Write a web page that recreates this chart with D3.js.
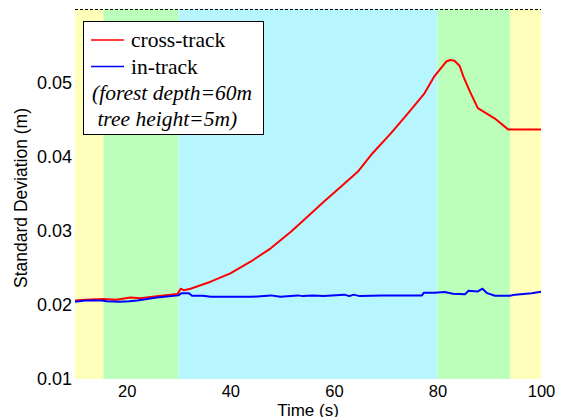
<!DOCTYPE html>
<html>
<head>
<meta charset="utf-8">
<script src="https://cdn.jsdelivr.net/npm/d3@7/dist/d3.min.js"></script>
<style>
  html, body { margin: 0; padding: 0; background: #fff; }
  svg { display: block; }
  .sans { font-family: "Liberation Sans", Arial, sans-serif; }
  .serif { font-family: "Liberation Serif", "Times New Roman", "DejaVu Serif", serif; }
</style>
</head>
<body>
<svg id="chart" width="569" height="417"></svg>
<script>
// ---- data ----
const xTicks = [20, 40, 60, 80, 100];
const yTicks = [0.01, 0.02, 0.03, 0.04, 0.05];
const yTickLabels = ["0.01", "0.02", "0.03", "0.04", "0.05"];

const bandStart = [10, 15.5, 30, 80, 94];
const bandEnd   = [15.5, 30, 80, 94, 100];
const bandKind  = ["open", "light", "dense", "light", "open"];

const crossT = [10, 12, 15.5, 18, 20.7, 22.6, 25.8, 29.8, 30.4, 31, 32.3, 36.2, 40, 43.9, 47.8, 51.7, 55, 58.1, 61.4, 64.6, 67.2, 71, 74.3, 77.5, 79.4, 81.7, 82.5, 83.3, 84.3, 85, 86.3, 87.8, 91.1, 93.7, 100];
const crossV = [0.0206, 0.0207, 0.0208, 0.0207, 0.0210, 0.0209, 0.0212, 0.0215, 0.0222, 0.0220, 0.0222, 0.02315, 0.02428, 0.02585, 0.02766, 0.0299, 0.0320, 0.0340, 0.0360, 0.0380, 0.0403, 0.0432, 0.0459, 0.0486, 0.0509, 0.0529, 0.0531, 0.0530, 0.0523, 0.0509, 0.0488, 0.0466, 0.0452, 0.0437, 0.0437];

const inT = [10, 12, 15.2, 16.1, 18.6, 20.5, 22, 25.8, 30, 30.5, 32, 32.6, 34.7, 36.2, 40, 44, 47.8, 49.7, 53, 54, 56, 58, 62, 63, 63.8, 65, 69.4, 77, 77.4, 79.4, 81.4, 83, 85.3, 86, 87.8, 88.7, 89.6, 91.1, 94, 95, 98.2, 100];
const inV = [0.02045, 0.0206, 0.0206, 0.0205, 0.02045, 0.0205, 0.0206, 0.0210, 0.0213, 0.02158, 0.0216, 0.02126, 0.02126, 0.0211, 0.0211, 0.0211, 0.0213, 0.0211, 0.0213, 0.0212, 0.0213, 0.0212, 0.0214, 0.0212, 0.0214, 0.0212, 0.0213, 0.0213, 0.02166, 0.02166, 0.02176, 0.02153, 0.02144, 0.02193, 0.02184, 0.0222, 0.0216, 0.02126, 0.02126, 0.0214, 0.0216, 0.0218];

const legendLabels = ["cross-track", "in-track"];
const noteLines = ["(forest depth=60m", " tree height=5m)"];

// ---- styles ----
const bandColor = { open: "#ffffbb", light: "#bbffbb", dense: "#b8f6ff" };
const seriesColor = ["#ff0000", "#0000ff"];

const svg = d3.select("#chart");
const L = 75, R = 541, T = 9, B = 379;
const x = d3.scaleLinear().domain([10, 100]).range([L, R]);
const y = d3.scaleLinear().domain([0.01, 0.06]).range([B, T]);

// bands
svg.append("g").selectAll("rect").data(bandStart).join("rect")
  .attr("x", (d, i) => x(d))
  .attr("width", (d, i) => x(bandEnd[i]) - x(d))
  .attr("y", T).attr("height", B - T)
  .attr("fill", (d, i) => bandColor[bandKind[i]]);

// top dashed border
svg.append("line")
  .attr("x1", L).attr("x2", R).attr("y1", T + 0.5).attr("y2", T + 0.5)
  .attr("stroke", "#000").attr("stroke-width", 1).attr("stroke-dasharray", "3,2");

// axes (labels only)
const xAxis = d3.axisBottom(x).tickValues(xTicks).tickSize(0).tickPadding(6).tickFormat(d3.format("d"));
const gx = svg.append("g").attr("transform", `translate(0,${B})`).call(xAxis);
gx.attr("font-family", null);
gx.select(".domain").remove();
gx.selectAll("text").attr("class", "sans").attr("font-size", 16.5).attr("fill", "#000");

const yAxis = d3.axisLeft(y).tickValues(yTicks).tickSize(0).tickPadding(3).tickFormat((d, i) => yTickLabels[i]);
const gy = svg.append("g").attr("transform", `translate(${L},0)`).call(yAxis);
gy.attr("font-family", null);
gy.select(".domain").remove();
gy.selectAll("text").attr("class", "sans").attr("font-size", 18).attr("fill", "#000");

// axis titles
svg.append("text").attr("class", "sans")
  .attr("x", (L + R) / 2).attr("y", 415.5)
  .attr("text-anchor", "middle")
  .attr("font-size", 17)
  .text("Time (s)");
svg.append("text").attr("class", "sans")
  .attr("transform", `translate(27,${(T + B) / 2 + 4}) rotate(-90)`)
  .attr("text-anchor", "middle")
  .attr("font-size", 17.5)
  .text("Standard Deviation (m)");

// lines
const line = d3.line().x(d => x(d[0])).y(d => y(d[1]));
const crossData = crossT.map((t, i) => [t, crossV[i]]);
const inData = inT.map((t, i) => [t, inV[i]]);
svg.append("path").datum(crossData).attr("d", line)
  .attr("fill", "none").attr("stroke", seriesColor[0]).attr("stroke-width", 2).attr("stroke-linejoin", "round");
svg.append("path").datum(inData).attr("d", line)
  .attr("fill", "none").attr("stroke", seriesColor[1]).attr("stroke-width", 2).attr("stroke-linejoin", "round");

// legend
const lg = svg.append("g");
lg.append("rect").attr("x", 83.5).attr("y", 21.5).attr("width", 180).attr("height", 113)
  .attr("fill", "#fff").attr("stroke", "#000").attr("stroke-width", 1);
legendLabels.forEach((lab, i) => {
  const yy = 40 + i * 26.5;
  lg.append("line").attr("x1", 91).attr("x2", 124).attr("y1", yy).attr("y2", yy)
    .attr("stroke", seriesColor[i]).attr("stroke-width", 1.5);
  lg.append("text").attr("class", "serif").attr("x", 131).attr("y", yy + 7)
    .attr("font-size", 21.5)
    .text(lab);
});
noteLines.forEach((s, i) => {
  lg.append("text").attr("class", "serif").attr("x", 92).attr("y", 100 + i * 26)
    .attr("font-size", 21.5)
    .attr("font-style", "italic").style("white-space", "pre")
    .text(s);
});
</script>
</body>
</html>
